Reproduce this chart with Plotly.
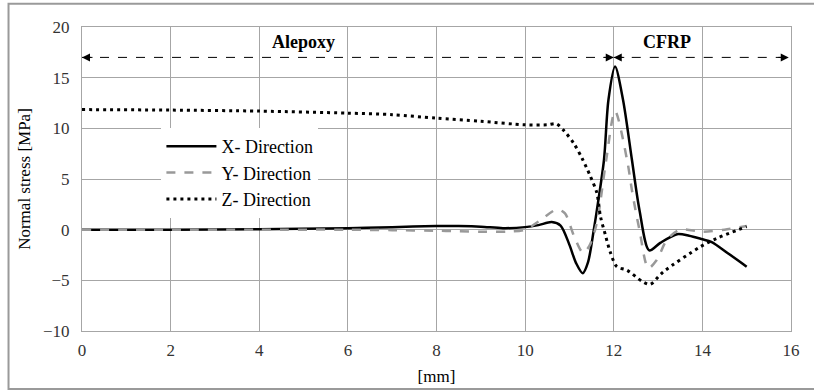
import plotly.graph_objects as go

# X-direction (solid black)
x_dir_x = [0, 2, 4, 6, 7, 8, 8.5, 9, 9.5, 10, 10.3, 10.6, 10.8, 11.0, 11.15, 11.3, 11.42, 11.55, 11.62, 11.78, 11.88, 12.03, 12.21, 12.41, 12.58, 12.8, 13.05, 13.43, 13.7, 14.0, 14.2, 14.6, 15.0]
x_dir_y = [0.0, 0.0, 0.05, 0.15, 0.25, 0.35, 0.35, 0.3, 0.15, 0.25, 0.45, 0.75, 0.4, -1.5, -3.3, -4.3, -3.2, 0.0, 1.95, 6.9, 12.8, 16.1, 12.8, 6.9, 1.95, -2.05, -1.3, -0.45, -0.6, -0.95, -1.2, -2.4, -3.65]

# Y-direction (gray dashed)
y_dir_x = [0, 2, 4, 6, 7, 8, 8.5, 9, 9.6, 10, 10.3, 10.72, 10.9, 11.1, 11.31, 11.45, 11.58, 11.67, 11.83, 12.03, 12.3, 12.41, 12.49, 12.58, 12.78, 12.97, 13.2, 13.5, 14.0, 14.5, 15.0]
y_dir_y = [0.0, 0.0, 0.0, 0.0, -0.05, -0.1, -0.15, -0.2, -0.2, 0.0, 0.8, 2.0, 1.6, -0.6, -2.3, -1.6, 0.0, 1.95, 6.9, 11.7, 6.9, 3.9, 1.95, 0.0, -3.8, -3.0, -1.0, 0.0, -0.2, 0.0, 0.37]

# Z-direction (black dotted)
z_dir_x = [0, 2, 4, 6, 7, 8, 9, 10, 10.5, 10.7, 10.87, 11.1, 11.29, 11.47, 11.62, 11.7, 11.81, 11.92, 12.07, 12.3, 12.64, 12.82, 13.12, 13.95, 14.33, 15.0]
z_dir_y = [11.85, 11.8, 11.7, 11.5, 11.35, 11.0, 10.7, 10.35, 10.35, 10.45, 9.8, 8.5, 7.0, 5.3, 3.6, 1.3, -0.5, -2.2, -3.65, -4.0, -5.1, -5.4, -4.15, -1.7, -0.85, 0.3]

region_labels = ["Alepoxy", "CFRP"]
x_ticks = [0, 2, 4, 6, 8, 10, 12, 14, 16]
y_ticks = [-10, -5, 0, 5, 10, 15, 20]

FONT = "Liberation Serif, Times New Roman, serif"
GRID = "#a6a6a6"

fig = go.Figure()
fig.add_trace(go.Scatter(x=x_dir_x, y=x_dir_y, mode="lines", name="X- Direction",
                         line=dict(color="black", width=2.5, shape="spline", smoothing=0.8)))
fig.add_trace(go.Scatter(x=y_dir_x, y=y_dir_y, mode="lines", name="Y- Direction",
                         line=dict(color="#999999", width=2.5, dash="dash", shape="spline", smoothing=0.8)))
fig.add_trace(go.Scatter(x=z_dir_x, y=z_dir_y, mode="lines", name="Z- Direction",
                         line=dict(color="black", width=3, dash="3px,4px", shape="spline", smoothing=0.8)))

# region dashed arrows
arrow_y = 17
fig.add_shape(type="line", x0=0, x1=12, y0=arrow_y, y1=arrow_y, xref="x", yref="y",
              line=dict(color="black", width=1, dash="dash"))
fig.add_shape(type="line", x0=12, x1=15.95, y0=arrow_y, y1=arrow_y, xref="x", yref="y",
              line=dict(color="black", width=1, dash="dash"))
for tip, off in [(0, 12), (12, -12), (12, 12), (15.95, -12)]:
    fig.add_annotation(x=tip, y=arrow_y, ax=off, ay=0, xref="x", yref="y", text="",
                       showarrow=True, arrowhead=2, arrowsize=1.6, arrowwidth=1, arrowcolor="black")

fig.add_annotation(x=5.0, y=18.5, text="<b>" + region_labels[0] + "</b>", showarrow=False,
                   font=dict(family=FONT, size=18, color="black"), xref="x", yref="y")
fig.add_annotation(x=13.2, y=18.5, text="<b>" + region_labels[1] + "</b>", showarrow=False,
                   font=dict(family=FONT, size=18, color="black"), xref="x", yref="y")

# outer chart border
fig.add_shape(type="rect", xref="paper", yref="paper",
              x0=(8 - 81.5) / 709.2, x1=(820 - 81.5) / 709.2,
              y0=(331 - 389) / 303.7, y1=(331 - 4) / 303.7,
              line=dict(color="#9a9a9a", width=2), fillcolor="rgba(0,0,0,0)", layer="below")

fig.update_layout(
    width=814, height=391,
    margin=dict(l=81.5, r=23.3, t=27.3, b=60),
    paper_bgcolor="white", plot_bgcolor="white",
    font=dict(family=FONT, size=17, color="#333333"),
    showlegend=True,
    legend=dict(x=0.112, y=0.668, xanchor="left", yanchor="top",
                bgcolor="white", borderwidth=0,
                font=dict(family=FONT, size=18, color="black"),
                tracegroupgap=0, itemwidth=50),
    xaxis=dict(range=[0, 16], tickvals=x_ticks, showgrid=True, gridcolor=GRID, gridwidth=1,
               showline=True, linecolor=GRID, mirror=True, zeroline=False, automargin=False,
               ticks="outside", ticklen=4, tickcolor="rgba(0,0,0,0)",
               tickfont=dict(family=FONT, size=17, color="#333333"),
               title=dict(text="[mm]", font=dict(family=FONT, size=17, color="black"), standoff=10)),
    yaxis=dict(range=[-10, 20], tickvals=y_ticks, showgrid=True, gridcolor=GRID, gridwidth=1,
               showline=True, linecolor=GRID, mirror=True, zeroline=False, automargin=False,
               ticks="outside", ticklen=8, tickcolor="rgba(0,0,0,0)",
               tickfont=dict(family=FONT, size=17, color="#333333"),
               title=dict(text="Normal stress [MPa]", font=dict(family=FONT, size=17, color="black"), standoff=8)),
)

fig.write_html("out.html")
